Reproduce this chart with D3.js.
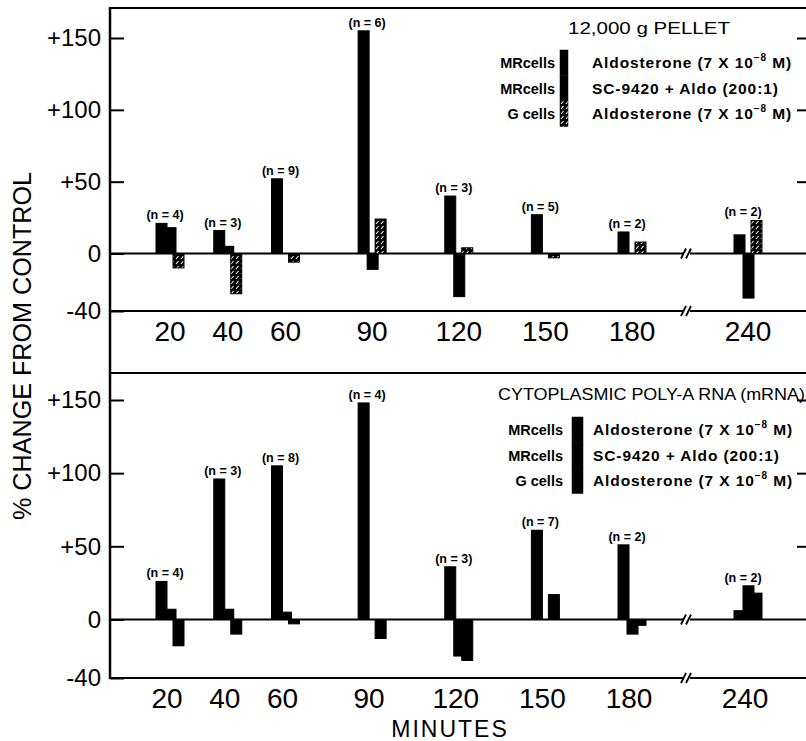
<!DOCTYPE html>
<html>

<head>
  <title>Percent change from control</title>
  <script src="https://cdn.jsdelivr.net/npm/d3@7"></script>
  <style>
    body { margin: 0; background: #fff; }
    text { font-family: "Liberation Sans", Arial, sans-serif; fill: #000; }
  </style>
</head>

<body>
  <div id="chart"></div>

  <script>
    // values (% change from control)
    const minutes = [20, 40, 60, 90, 120, 150, 180, 240]
    const yTicks = [-40, 0, 50, 100, 150]

    // 12,000 g pellet
    const pelletMrAldo = [21, 16, 52, 155, 40, 27, 15, 13]
    const pelletMrSc = [18, 5, 0, -11, -30, 0, 0, -31]
    const pelletGAldo = [-10, -28, -6, 24, 4, -3, 8, 23]
    const pelletN = [4, 3, 9, 6, 3, 5, 2, 2]

    // cytoplasmic poly-A RNA
    const mrnaMrAldo = [26, 96, 105, 148, 36, 61, 51, 6]
    const mrnaMrSc = [7, 7, 5, 0, -25, 0, -10, 23]
    const mrnaGAldo = [-18, -10, -3, -13, -28, 17, -4, 18]
    const mrnaN = [4, 3, 8, 4, 3, 7, 2, 2]

    const legendCells = ["MRcells", "MRcells", "G cells"]

    const width = 806
    const height = 741
    const left = 110
    const right = 806
    const breakX = 687

    const svg = d3.select("#chart")
      .append("svg")
      .attr("width", width)
      .attr("height", height)

    const defs = svg.append("defs")
    const hatch = defs.append("pattern")
      .attr("id", "hatch")
      .attr("patternUnits", "userSpaceOnUse")
      .attr("width", 5)
      .attr("height", 5)
    hatch.append("rect").attr("width", 5).attr("height", 5).attr("fill", "#000")
    hatch.append("path")
      .attr("d", "M1,4 L3.5,1")
      .attr("stroke", "#fff")
      .attr("stroke-width", 1.1)

    // time axis is linear up to 180 min, then broken before 240
    const x = d3.scaleLinear()
      .domain([20, 180, 240])
      .range([170, 632, 748])

    const barW = 11
    const barOffsets = [-14, -5, 3]

    function brokenLine(g, yv) {
      g.append("line")
        .attr("x1", left).attr("x2", breakX - 3)
        .attr("y1", yv).attr("y2", yv)
        .attr("stroke", "#000").attr("stroke-width", 2)
      g.append("line")
        .attr("x1", breakX + 3).attr("x2", right)
        .attr("y1", yv).attr("y2", yv)
        .attr("stroke", "#000").attr("stroke-width", 2)
      for (let i = 0; i < 2; i++) {
        g.append("line")
          .attr("x1", breakX - 6 + i * 5).attr("y1", yv + 5)
          .attr("x2", breakX - 1 + i * 5).attr("y2", yv - 5)
          .attr("stroke", "#000").attr("stroke-width", 1.8)
      }
    }

    function drawPanel(cfg) {
      const y = d3.scaleLinear().domain([-40, 150]).range(cfg.range)
      const g = svg.append("g")

      // left axis with inward ticks
      g.append("g")
        .attr("transform", `translate(${left},0)`)
        .call(d3.axisLeft(y)
          .tickValues(yTicks)
          .tickSizeInner(-14)
          .tickSizeOuter(0)
          .tickPadding(9)
          .tickFormat(d => d > 0 ? "+" + d : d))
        .call(a => a.select(".domain").remove())
        .call(a => a.selectAll("line").attr("stroke", "#000").attr("stroke-width", 2))
        .call(a => a.selectAll("text")
          .attr("font-size", 24)
          .attr("font-family", "Liberation Sans, Arial, sans-serif")
          .attr("fill", "#000"))

      // short ticks on the right edge
      g.append("g")
        .attr("transform", `translate(${right},0)`)
        .call(d3.axisLeft(y).tickValues([50, 100, 150]).tickSize(9).tickFormat(""))
        .call(a => a.select(".domain").remove())
        .call(a => a.selectAll("line").attr("stroke", "#000").attr("stroke-width", 2))

      brokenLine(g, y(0))
      brokenLine(g, y(-40))

      // bars
      cfg.series.forEach((vals, s) => {
        g.append("g")
          .selectAll("rect")
          .data(minutes.map((m, i) => ({ m: m, v: vals[i] })).filter(d => d.v !== 0))
          .enter()
          .append("rect")
          .attr("x", d => x(d.m) + barOffsets[s])
          .attr("width", barW)
          .attr("y", d => Math.min(y(d.v), y(0)))
          .attr("height", d => Math.abs(y(d.v) - y(0)))
          .attr("fill", cfg.fills[s])
          .attr("stroke", "#000")
          .attr("stroke-width", 1)
      })

      // n labels
      g.append("g")
        .selectAll("text")
        .data(minutes)
        .enter()
        .append("text")
        .attr("x", m => x(m) - 5)
        .attr("y", (m, i) => y(Math.max(0, ...cfg.series.map(s => s[i]))) - 4)
        .attr("text-anchor", "middle")
        .attr("font-size", 12.5)
        .attr("font-weight", "bold")
        .text((m, i) => `(n = ${cfg.n[i]})`)

      // minute labels
      g.append("g")
        .selectAll("text")
        .data(minutes)
        .enter()
        .append("text")
        .attr("x", m => x(m) + cfg.labelShift)
        .attr("y", y(-40) + 30)
        .attr("text-anchor", "middle")
        .attr("font-size", 28)
        .text(m => m)

      // legend
      const lg = cfg.legend
      g.append("text")
        .attr("x", lg.titleX).attr("y", lg.titleY)
        .attr("font-size", 17)
        .attr("textLength", lg.titleLen)
        .attr("lengthAdjust", "spacingAndGlyphs")
        .text(lg.title)

      legendCells.forEach((c, i) => {
        const ry = lg.rowY + i * 25.5
        g.append("text")
          .attr("x", lg.cellX).attr("y", ry + 6)
          .attr("text-anchor", "end")
          .attr("font-size", 14.5)
          .attr("font-weight", "bold")
          .text(c)
        g.append("rect")
          .attr("x", lg.swatchX).attr("y", ry - 12)
          .attr("width", lg.swatchW).attr("height", 25.5)
          .attr("fill", cfg.fills[i])
          .attr("stroke", "#000")
          .attr("stroke-width", 0.5)
        const t = g.append("text")
          .attr("x", lg.textX).attr("y", ry + 6)
          .attr("font-size", 15.5)
          .attr("font-weight", "bold")
          .attr("letter-spacing", 0.9)
        if (i === 1) {
          t.text("SC-9420 + Aldo (200:1)")
        } else {
          t.append("tspan").text("Aldosterone (7 X 10")
          t.append("tspan").attr("dy", -7).attr("font-size", 10).text("−8")
          t.append("tspan").attr("dy", 7).text(" M)")
        }
      })
    }

    // frame lines
    svg.append("line")
      .attr("x1", left).attr("x2", right).attr("y1", 8).attr("y2", 8)
      .attr("stroke", "#000").attr("stroke-width", 2)
    svg.append("line")
      .attr("x1", left).attr("x2", right).attr("y1", 373).attr("y2", 373)
      .attr("stroke", "#000").attr("stroke-width", 2)
    svg.append("line")
      .attr("x1", left).attr("x2", left).attr("y1", 7).attr("y2", 679)
      .attr("stroke", "#000").attr("stroke-width", 2.5)

    drawPanel({
      range: [311, 38],
      series: [pelletMrAldo, pelletMrSc, pelletGAldo],
      fills: ["#000", "#000", "url(#hatch)"],
      n: pelletN,
      labelShift: 0,
      legend: {
        title: "12,000 g PELLET", titleX: 568, titleY: 34, titleLen: 162,
        rowY: 62, cellX: 555, swatchX: 560, swatchW: 8, textX: 592
      }
    })

    drawPanel({
      range: [678, 400],
      series: [mrnaMrAldo, mrnaMrSc, mrnaGAldo],
      fills: ["#000", "#000", "#000"],
      n: mrnaN,
      labelShift: -3,
      legend: {
        title: "CYTOPLASMIC POLY-A RNA (mRNA).", titleX: 498, titleY: 400, titleLen: 312,
        rowY: 429, cellX: 563, swatchX: 572, swatchW: 11, textX: 593
      }
    })

    // axis titles
    svg.append("text")
      .attr("transform", "translate(31,346) rotate(-90)")
      .attr("text-anchor", "middle")
      .attr("font-size", 25)
      .attr("textLength", 348)
      .attr("lengthAdjust", "spacingAndGlyphs")
      .text("% CHANGE FROM CONTROL")

    svg.append("text")
      .attr("x", 450).attr("y", 737)
      .attr("text-anchor", "middle")
      .attr("font-size", 23)
      .attr("letter-spacing", 2)
      .text("MINUTES")
  </script>
</body>

</html>
